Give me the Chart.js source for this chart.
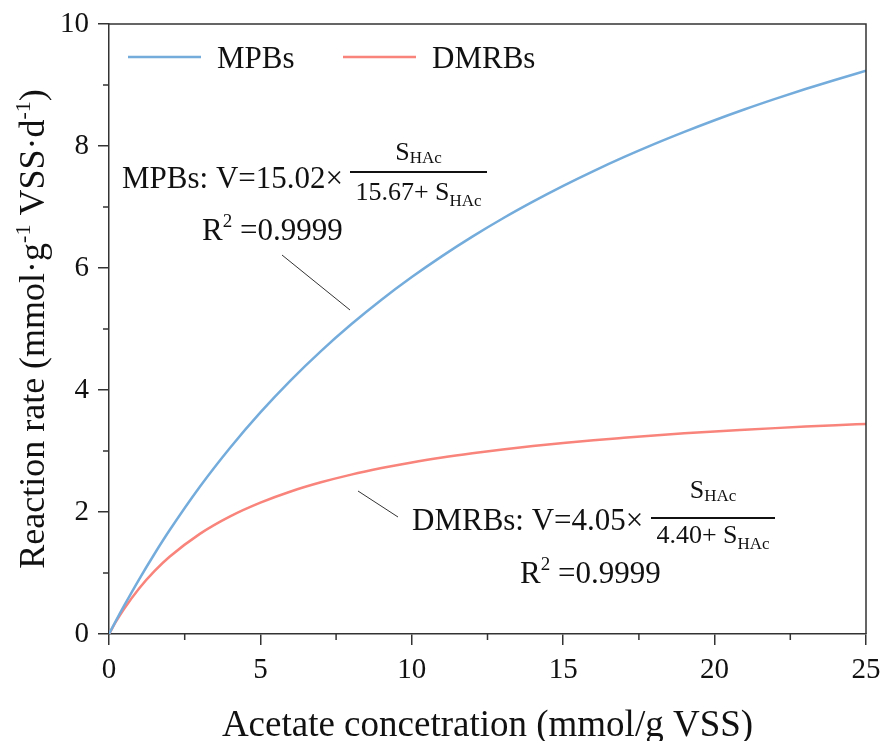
<!DOCTYPE html>
<html>
<head>
<meta charset="utf-8">
<script src="https://cdn.jsdelivr.net/npm/chart.js"></script>
<style>
  html, body { margin: 0; padding: 0; background: #fff; }
  #wrap { width: 881px; height: 741px; }
</style>
</head>
<body>
<div id="wrap"><canvas id="chart" width="881" height="741"></canvas></div>
<script>
// Values
const concentration = [0, 0.25, 0.5, 1, 1.5, 2, 3, 4, 5, 6, 7, 8, 9, 10, 11, 12, 13, 14, 15, 16, 17, 18, 19, 20, 21, 22, 23, 24, 25];
const mpbsRate = [0, 0.236, 0.464, 0.901, 1.312, 1.700, 2.414, 3.054, 3.633, 4.159, 4.638, 5.077, 5.480, 5.851, 6.195, 6.514, 6.811, 7.087, 7.346, 7.588, 7.816, 8.030, 8.231, 8.422, 8.602, 8.772, 8.934, 9.087, 9.233];
const dmrbsRate = [0, 0.218, 0.413, 0.750, 1.030, 1.266, 1.642, 1.929, 2.154, 2.337, 2.487, 2.613, 2.720, 2.813, 2.893, 2.963, 3.026, 3.082, 3.131, 3.177, 3.217, 3.255, 3.289, 3.320, 3.348, 3.375, 3.400, 3.423, 3.444];
const seriesNames = ['MPBs', 'DMRBs'];
const xTicks = [0, 5, 10, 15, 20, 25];
const yTicks = [0, 2, 4, 6, 8, 10];
const xMinorTicks = [2.5, 7.5, 12.5, 17.5, 22.5];
const yMinorTicks = [1, 3, 5, 7, 9];

const BLUE = '#74acdc';
const RED = '#f8847c';
const AXIS = '#333';
const SERIF = '"Liberation Serif", "Times New Roman", serif';

function toPoints(ys) {
    return concentration.map((x, i) => ({ x: x, y: ys[i] }));
}

// draw a run of text pieces with their own size / baseline shift
function richWidth(ctx, parts) {
    let w = 0;
    parts.forEach(p => {
        ctx.font = p.size + 'px ' + SERIF;
        w += ctx.measureText(p.t).width;
    });
    return w;
}

function drawRich(ctx, x, y, parts, align) {
    const w = richWidth(ctx, parts);
    let cx = x;
    if (align === 'center') cx = x - w / 2;
    if (align === 'right') cx = x - w;
    ctx.textAlign = 'left';
    ctx.textBaseline = 'alphabetic';
    parts.forEach(p => {
        ctx.font = p.size + 'px ' + SERIF;
        ctx.fillText(p.t, cx, y + (p.dy || 0));
        cx += ctx.measureText(p.t).width;
    });
    return w;
}

function drawFraction(ctx, x0, width, lineY, numY, denY, denLead) {
    ctx.strokeStyle = '#111';
    ctx.lineWidth = 2;
    ctx.beginPath();
    ctx.moveTo(x0, lineY);
    ctx.lineTo(x0 + width, lineY);
    ctx.stroke();
    const mid = x0 + width / 2;
    drawRich(ctx, mid, numY, [{ t: 'S', size: 26 }, { t: 'HAc', size: 17, dy: 3 }], 'center');
    drawRich(ctx, mid, denY, [{ t: denLead + ' S', size: 26 }, { t: 'HAc', size: 17, dy: 6 }], 'center');
}

function leader(ctx, x1, y1, x2, y2) {
    ctx.strokeStyle = '#333';
    ctx.lineWidth = 1;
    ctx.beginPath();
    ctx.moveTo(x1, y1);
    ctx.lineTo(x2, y2);
    ctx.stroke();
}

const decorPlugin = {
    id: 'decor',
    afterDraw(chart) {
        const ctx = chart.ctx;
        const area = chart.chartArea;
        const xs = chart.scales.x;
        const ys = chart.scales.y;
        ctx.save();

        // top and right frame
        ctx.strokeStyle = AXIS;
        ctx.lineWidth = 1.5;
        ctx.beginPath();
        ctx.moveTo(area.left, area.top);
        ctx.lineTo(area.right, area.top);
        ctx.lineTo(area.right, area.bottom);
        ctx.stroke();

        // minor ticks
        ctx.lineWidth = 1.5;
        ctx.beginPath();
        xMinorTicks.forEach(v => {
            const px = xs.getPixelForValue(v);
            ctx.moveTo(px, area.bottom);
            ctx.lineTo(px, area.bottom + 6);
        });
        yMinorTicks.forEach(v => {
            const py = ys.getPixelForValue(v);
            ctx.moveTo(area.left, py);
            ctx.lineTo(area.left - 6, py);
        });
        ctx.stroke();

        ctx.fillStyle = '#111';

        // legend
        const legend = [
            { name: seriesNames[0], color: BLUE, x: 128 },
            { name: seriesNames[1], color: RED, x: 343 }
        ];
        legend.forEach(l => {
            ctx.strokeStyle = l.color;
            ctx.lineWidth = 2.5;
            ctx.beginPath();
            ctx.moveTo(l.x, 57);
            ctx.lineTo(l.x + 73, 57);
            ctx.stroke();
            drawRich(ctx, l.x + 89, 68, [{ t: l.name, size: 31 }], 'left');
        });

        // MPBs equation
        drawRich(ctx, 122, 188, [{ t: 'MPBs: V=15.02×', size: 31 }], 'left');
        drawFraction(ctx, 350, 137, 172, 160, 200, '15.67+');
        drawRich(ctx, 202, 240, [{ t: 'R', size: 31 }, { t: '2', size: 19, dy: -13 }, { t: ' =0.9999', size: 31 }], 'left');
        leader(ctx, 282, 255, 350, 310);

        // DMRBs equation
        drawRich(ctx, 412, 530, [{ t: 'DMRBs: V=4.05×', size: 31 }], 'left');
        drawFraction(ctx, 651, 124, 518, 498, 543, '4.40+');
        drawRich(ctx, 520, 583, [{ t: 'R', size: 31 }, { t: '2', size: 19, dy: -13 }, { t: ' =0.9999', size: 31 }], 'left');
        leader(ctx, 358, 491, 398, 517);

        // axis titles
        drawRich(ctx, (area.left + area.right) / 2, 736, [{ t: 'Acetate concetration (mmol/g VSS)', size: 37 }], 'center');
        ctx.translate(44, (area.top + area.bottom) / 2);
        ctx.rotate(-Math.PI / 2);
        drawRich(ctx, 0, 0, [
            { t: 'Reaction rate (mmol·g', size: 36 },
            { t: '-1', size: 22, dy: -14 },
            { t: ' VSS·d', size: 36 },
            { t: '-1', size: 22, dy: -14 },
            { t: ')', size: 36 }
        ], 'center');

        ctx.restore();
    }
};

new Chart(document.getElementById('chart'), {
    type: 'line',
    data: {
        datasets: [
            {
                label: seriesNames[0],
                data: toPoints(mpbsRate),
                borderColor: BLUE,
                borderWidth: 2.5,
                pointRadius: 0,
                cubicInterpolationMode: 'monotone',
                fill: false
            },
            {
                label: seriesNames[1],
                data: toPoints(dmrbsRate),
                borderColor: RED,
                borderWidth: 2.5,
                pointRadius: 0,
                cubicInterpolationMode: 'monotone',
                fill: false
            }
        ]
    },
    options: {
        responsive: false,
        animation: false,
        events: [],
        layout: { padding: { left: 0, right: 15, top: 24, bottom: 0 } },
        plugins: { legend: { display: false }, tooltip: { enabled: false } },
        scales: {
            x: {
                type: 'linear',
                min: 0,
                max: 25,
                afterBuildTicks: scale => { scale.ticks = xTicks.map(v => ({ value: v })); },
                afterFit: scale => {
                    scale.height = 107;
                    scale.paddingLeft = 0;
                    scale.paddingRight = 0;
                },
                ticks: {
                    color: '#111',
                    font: { family: SERIF, size: 29 },
                    padding: 8,
                    maxRotation: 0
                },
                grid: { drawOnChartArea: false, drawTicks: true, tickLength: 11, color: AXIS, lineWidth: 1.5 },
                border: { display: true, color: AXIS, width: 1.5 }
            },
            y: {
                type: 'linear',
                min: 0,
                max: 10,
                afterBuildTicks: scale => { scale.ticks = yTicks.map(v => ({ value: v })); },
                afterFit: scale => {
                    scale.width = 109;
                    scale.paddingTop = 0;
                    scale.paddingBottom = 0;
                },
                ticks: {
                    color: '#111',
                    font: { family: SERIF, size: 29 },
                    padding: 9
                },
                grid: { drawOnChartArea: false, drawTicks: true, tickLength: 11, color: AXIS, lineWidth: 1.5 },
                border: { display: true, color: AXIS, width: 1.5 }
            }
        }
    },
    plugins: [decorPlugin]
});
</script>
</body>
</html>
